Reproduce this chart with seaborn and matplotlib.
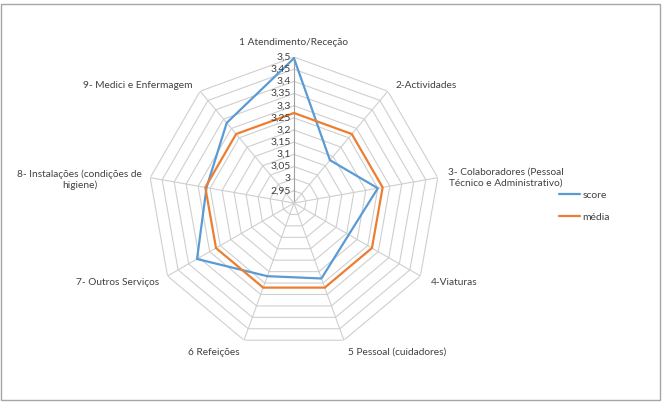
import numpy as np
import pandas as pd
import matplotlib.pyplot as plt
from matplotlib.patches import Rectangle
import seaborn as sns

# dados
categorias = ["1 Atendimento/Receção", "2-Actividades",
              "3- Colaboradores (Pessoal\nTécnico e Administrativo)", "4-Viaturas",
              "5 Pessoal (cuidadores)", "6 Refeições", "7- Outros Serviços",
              "8- Instalações (condições de\nhigiene)", "9- Medici e Enfermagem"]
score = [3.495, 3.13, 3.25, 3.16, 3.23, 3.22, 3.36, 3.265, 3.33]
media = [3.27, 3.27, 3.27, 3.27, 3.27, 3.27, 3.27, 3.27, 3.27]
niveis = [2.95, 3.0, 3.05, 3.1, 3.15, 3.2, 3.25, 3.3, 3.35, 3.4, 3.45, 3.5]
rmin, rmax = 2.9, 3.5

sns.set_style("white")
plt.rcParams["font.family"] = ["Lato", "DejaVu Sans"]

n = len(categorias)
ang = np.arange(n) * 2 * np.pi / n
ang_f = np.append(ang, 2 * np.pi)

df = pd.concat([
    pd.DataFrame({"theta": ang_f, "r": score + score[:1], "serie": "score"}),
    pd.DataFrame({"theta": ang_f, "r": media + media[:1], "serie": "média"}),
])

fig = plt.figure(figsize=(6.63, 4.15), dpi=100)
ax = fig.add_axes([0.2232, 0.159, 0.4404, 0.7036], projection="polar")
ax.set_theta_zero_location("N")
ax.set_theta_direction(-1)
ax.set_ylim(rmin, rmax)
ax.grid(False)
ax.spines["polar"].set_visible(False)
ax.set_xticks([])
ax.set_yticks([])

# grelha poligonal
for v in niveis:
    ax.plot(ang_f, [v] * (n + 1), color="#cfcfcf", lw=0.8, zorder=1)
for i, a in enumerate(ang):
    ax.plot([a, a], [rmin, rmax], color="#a0a0a0" if i == 0 else "#cfcfcf",
            lw=0.8, zorder=1)

sns.lineplot(data=df, x="theta", y="r", hue="serie", sort=False, ax=ax,
             palette={"score": "#5b9bd5", "média": "#ed7d31"},
             linewidth=1.6, legend=False, zorder=3)
ax.set_xlabel("")
ax.set_ylabel("")

# rótulos radiais
for v in niveis:
    ax.annotate(f"{v:g}".replace(".", ","), (0, v), xytext=(-3, 0),
                textcoords="offset pixels", ha="right", va="center",
                fontsize=7.5, color="#404040", annotation_clip=False)

# rótulos das categorias
offs = [(0, 15, "center"), (8, 6, "left"), (10, 0, "left"), (10, -6, "left"),
        (4, -12, "left"), (-4, -12, "right"), (-8, -6, "right"),
        (-8, -2, "right"), (-8, 6, "right")]
for a, lab, (dx, dy, ha) in zip(ang, categorias, offs):
    ax.annotate(lab, (a, rmax), xytext=(dx, dy), textcoords="offset pixels",
                ha=ha, va="center", multialignment="center",
                fontsize=7.3, color="#404040", annotation_clip=False)

linhas = ax.get_lines()[-2:]
fig.legend(linhas, ["score", "média"], loc="center left",
           bbox_to_anchor=(550 / 663, 1 - 206 / 415), frameon=False,
           fontsize=7.5, handlelength=2.0, handletextpad=0.2, labelspacing=1.2,
           labelcolor="#404040")

fig.patches.append(Rectangle((1 / 663, 15 / 415), 659 / 663, 396 / 415,
                             transform=fig.transFigure, fill=False,
                             edgecolor="#a6a6a6", lw=1))

fig.savefig("out.png", dpi=100)
